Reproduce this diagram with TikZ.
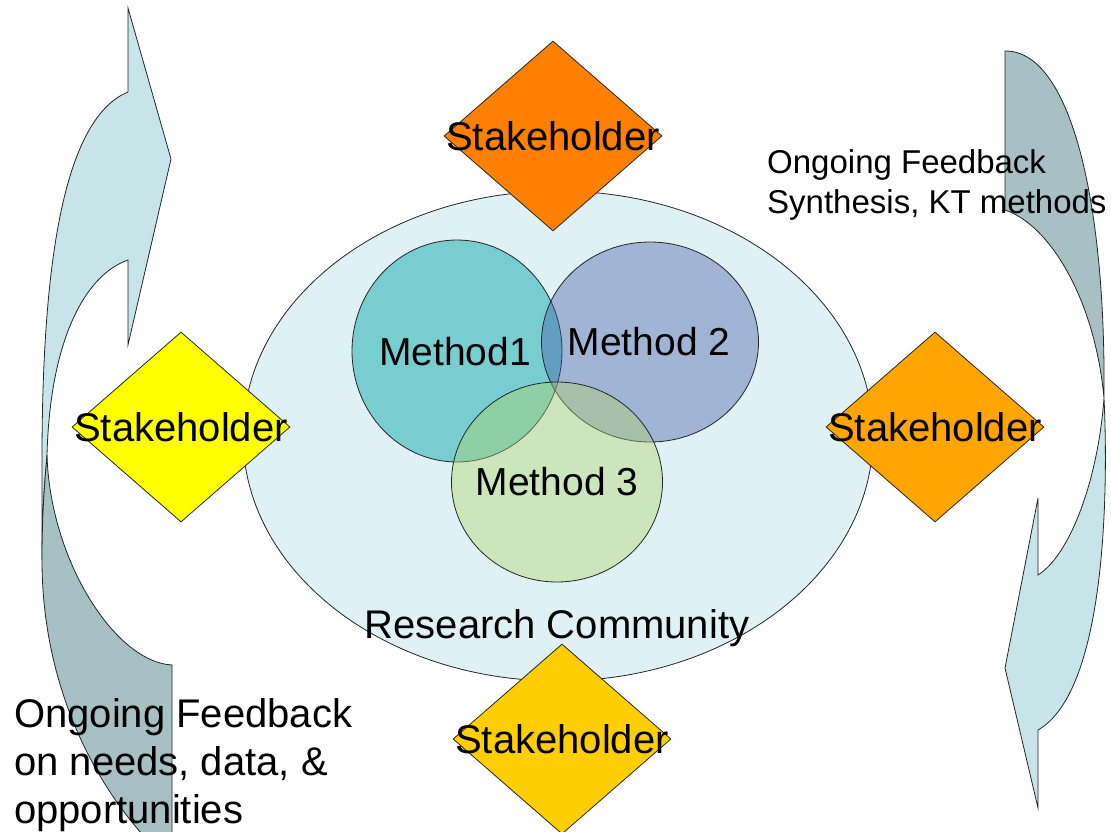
\documentclass[tikz,border=0pt]{standalone}
\usepackage{fontspec}
\setmainfont{Liberation Sans}
\usetikzlibrary{shapes.geometric}
\definecolor{arrL}{RGB}{199,228,232}
\definecolor{arrD}{RGB}{166,192,195}
\definecolor{commC}{RGB}{223,241,244}
\definecolor{mOne}{RGB}{120,205,208}
\definecolor{mTwo}{RGB}{66,89,169}
\definecolor{mThree}{RGB}{176,211,102}
\definecolor{sTopC}{RGB}{255,128,0}
\definecolor{sLeftC}{RGB}{255,255,0}
\definecolor{sRightC}{RGB}{255,165,0}
\definecolor{sBotC}{RGB}{255,206,0}
\begin{document}
\begin{tikzpicture}[x=1pt,y=-1pt,
  outl/.style={draw=black!85, line width=0.8pt},
  stake/.style={diamond, outl, minimum width=218pt, minimum height=190pt, inner sep=0pt},
  meth/.style={ellipse, outl, inner sep=0pt},
  lbl/.style={inner sep=0pt, font=\fontsize{40}{46}\selectfont},
  mlbl/.style={inner sep=0pt, font=\fontsize{39}{45}\selectfont},
  note/.style={inner sep=0pt, align=left, anchor=north west}]
\useasboundingbox (0,0) rectangle (1111,832);
% left curved arrow
\filldraw[outl, fill=arrL] (128,92) -- (128,8) -- (171,159) -- (128,345) -- (128,260)
  .. controls (85,275) and (50,340) .. (47,455)
  .. controls (45,480) and (42,510) .. (42,560)
  -- (42,460)
  .. controls (42,280) and (60,120) .. (128,92) -- cycle;
\filldraw[outl, fill=arrD] (47,455) .. controls (50,560) and (115,662) .. (172,665)
  -- (172,845) -- (152,845)
  .. controls (90,780) and (42,680) .. (42,560)
  .. controls (42,510) and (45,480) .. (47,455) -- cycle;
% right curved arrow
\filldraw[outl, fill=arrD] (1005,51) -- (1005,210)
  .. controls (1050,225) and (1095,300) .. (1104,398)
  .. controls (1106,200) and (1070,50) .. (1005,51) -- cycle;
\filldraw[outl, fill=arrL] (1104,398) .. controls (1108,480) and (1108,690) .. (1038,730)
  -- (1038,808) -- (1005,668) -- (1038,498) -- (1038,575)
  .. controls (1070,555) and (1098,480) .. (1104,398) -- cycle;
% research community
\node[ellipse, outl, fill=commC, inner sep=0pt, minimum width=630pt, minimum height=490pt] (rc) at (558,436) {};
% methods
\node[meth, fill=mOne, minimum width=210pt, minimum height=222pt] (m1) at (457,351) {};
\node[meth, fill=mTwo, fill opacity=0.4, minimum width=217pt, minimum height=200pt] (m2) at (650,342) {};
\node[meth, fill=mThree, fill opacity=0.4, minimum width=211pt, minimum height=200pt] (m3) at (557,482) {};
\node[mlbl] (t1) at (455,352) {Method1};
\node[mlbl] (t2) at (649,342) {Method 2};
\node[mlbl] (t3) at (557,482) {Method 3};
\node[lbl] (rct) at (557,628) {Research Community};
% stakeholders
\node[stake, fill=sTopC] (sT) at (553,136) {};
\node[stake, fill=sLeftC] (sL) at (181,427) {};
\node[stake, fill=sRightC] (sR) at (935,427) {};
\node[stake, fill=sBotC] (sB) at (562,739) {};
\node[lbl] (sTt) at (sT) {Stakeholder};
\node[lbl] (sLt) at (sL) {Stakeholder};
\node[lbl] (sRt) at (sR) {Stakeholder};
\node[lbl] (sBt) at (sB) {Stakeholder};
% notes
\node[note, font=\fontsize{33}{40}\selectfont] (nR) at (767,149) {Ongoing Feedback\\Synthesis, KT methods};
\node[note, font=\fontsize{40}{48}\selectfont] (nL) at (14,698) {Ongoing Feedback\\on needs, data, \&\\opportunities};
\end{tikzpicture}
\end{document}
